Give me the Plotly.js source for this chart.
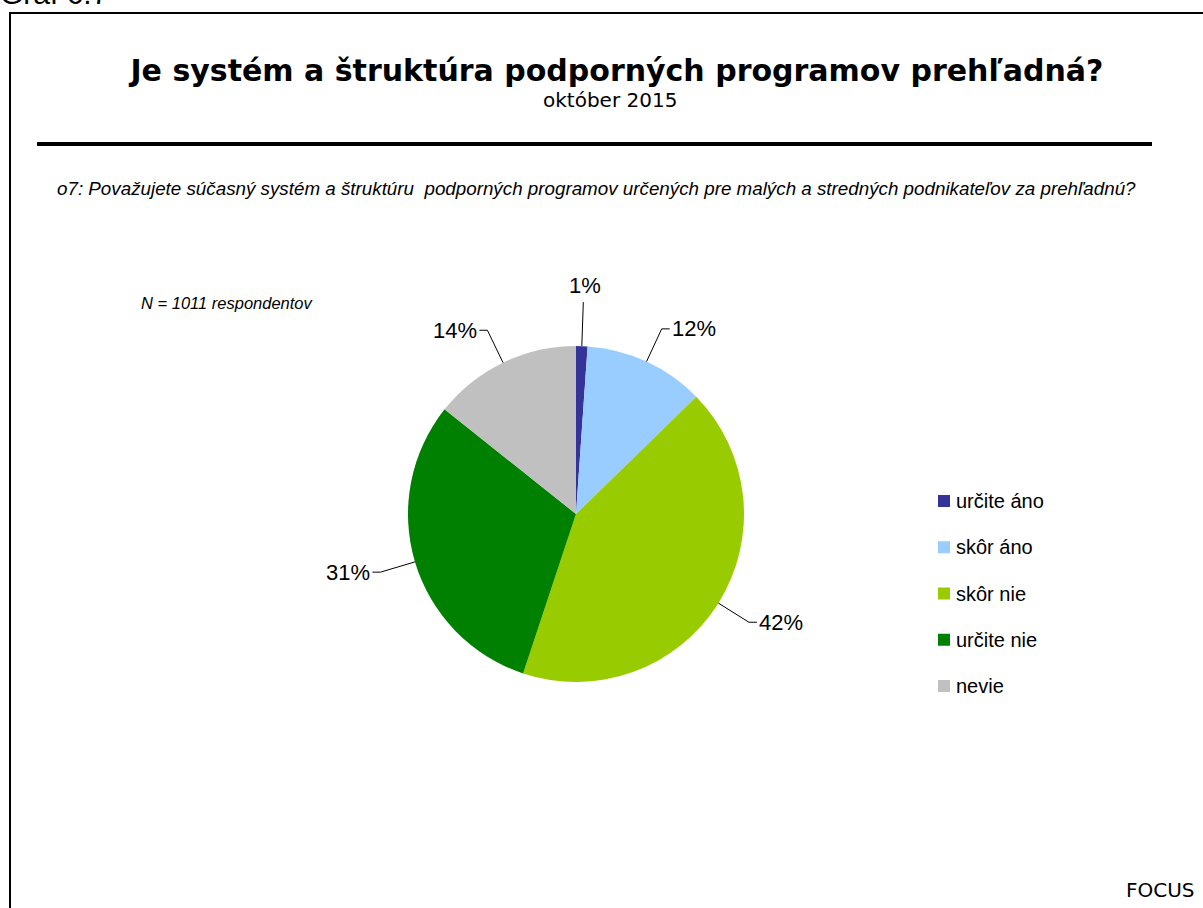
<!DOCTYPE html>
<html>
<head>
<meta charset="utf-8">
<script src="https://cdn.plot.ly/plotly-3.0.1.min.js"></script>
<style>html,body{margin:0;padding:0;background:#fff;}#chart{width:1203px;height:908px;}</style>
</head>
<body>
<div id="chart"></div>
<script>
// ---- data ----
const categories = ['určite áno', 'skôr áno', 'skôr nie', 'určite nie', 'nevie'];
const shares = [1.1, 11.6, 42.4, 30.6, 14.3];
const sliceColors = ['#333399', '#99CCFF', '#99CC00', '#008000', '#C0C0C0'];

const chartTitle = 'Je systém a štruktúra podporných programov prehľadná?';
const subTitle = 'október 2015';
const questionText = 'o7: Považujete súčasný systém a štruktúru  podporných programov určených pre malých a stredných podnikateľov za prehľadnú?';
const sampleNote = 'N = 1011 respondentov';
const figureLabel = 'Graf 6.7';
const sourceLabel = 'FOCUS';

// ---- layout geometry (pixels) ----
const W = 1203, H = 908;
const CX = 576, CY = 514, R = 168;
const px = x => x / W;
const py = y => 1 - y / H;

const total = shares.reduce((a, b) => a + b, 0);
const shapes = [];
const annotations = [];

// frame
shapes.push({type: 'rect', xref: 'paper', yref: 'paper', x0: px(10), y0: py(13), x1: 1.02, y1: -0.02,
  line: {color: '#000', width: 2}, fillcolor: 'rgba(0,0,0,0)'});
// rule under title
shapes.push({type: 'line', xref: 'paper', yref: 'paper', x0: px(37), x1: px(1152), y0: py(144), y1: py(144),
  line: {color: '#000', width: 4}});

// leader lines + percentage labels, derived from data
let cum = 0;
shares.forEach((v, i) => {
  const mid = (cum + v / 2) / total * 2 * Math.PI;
  cum += v;
  const s = Math.sin(mid), c = Math.cos(mid);
  const ax = CX + R * s, ay = CY - R * c;
  const label = Math.round(v / total * 100) + '%';
  if (Math.abs(s) < 0.15) {
    const d = 44;
    const bx = CX + (R + d) * s, by = CY - (R + d) * c;
    shapes.push({type: 'line', xref: 'paper', yref: 'paper', x0: px(ax), y0: py(ay), x1: px(bx), y1: py(by),
      line: {color: '#000', width: 1}});
    annotations.push({xref: 'paper', yref: 'paper', x: px(bx + 2), y: py(by - 2), xanchor: 'center', yanchor: 'bottom',
      text: label, showarrow: false, font: {family: 'Liberation Sans, Arial', size: 22, color: '#000'}});
  } else {
    const d = 36;
    const bx = CX + (R + d) * s, by = CY - (R + d) * c;
    const side = s > 0 ? 1 : -1;
    const ex = bx + side * 8;
    shapes.push({type: 'path', xref: 'paper', yref: 'paper',
      path: 'M' + px(ax) + ',' + py(ay) + ' L' + px(bx) + ',' + py(by) + ' L' + px(ex) + ',' + py(by),
      line: {color: '#000', width: 1}});
    annotations.push({xref: 'paper', yref: 'paper', x: px(ex), y: py(by),
      xanchor: side > 0 ? 'left' : 'right', yanchor: 'middle',
      text: label, showarrow: false, font: {family: 'Liberation Sans, Arial', size: 22, color: '#000'}});
  }
});

// legend (built from categories and colours)
const LX = 938, LY0 = 501, LDY = 46.25, SQ = 12;
categories.forEach((name, i) => {
  const yc = LY0 + i * LDY;
  shapes.push({type: 'rect', xref: 'paper', yref: 'paper', x0: px(LX), x1: px(LX + SQ), y0: py(yc - SQ / 2), y1: py(yc + SQ / 2),
    fillcolor: sliceColors[i], line: {width: 0}});
  annotations.push({xref: 'paper', yref: 'paper', x: px(LX + SQ + 4), y: py(yc), xanchor: 'left', yanchor: 'middle',
    text: name, showarrow: false, font: {family: 'Liberation Sans, Arial', size: 20, color: '#000'}});
});

// other texts
annotations.push({xref: 'paper', yref: 'paper', x: px(610), y: py(100), xanchor: 'center', yanchor: 'middle',
  text: subTitle, showarrow: false, font: {family: 'DejaVu Sans', size: 20, color: '#000'}});
annotations.push({xref: 'paper', yref: 'paper', x: px(55), y: py(188), xanchor: 'left', yanchor: 'middle',
  text: '<i>' + questionText + '</i>', showarrow: false, font: {family: 'Liberation Sans, Arial', size: 18.8, color: '#000'}});
annotations.push({xref: 'paper', yref: 'paper', x: px(139), y: py(303), xanchor: 'left', yanchor: 'middle',
  text: '<i>' + sampleNote + '</i>', showarrow: false, font: {family: 'Liberation Sans, Arial', size: 16.5, color: '#000'}});
annotations.push({xref: 'paper', yref: 'paper', x: px(-2), y: py(12), xanchor: 'left', yanchor: 'bottom',
  text: figureLabel, showarrow: false, font: {family: 'Liberation Sans, Arial', size: 30, color: '#000'}});
annotations.push({xref: 'paper', yref: 'paper', x: px(1197), y: py(890), xanchor: 'right', yanchor: 'middle',
  text: sourceLabel, showarrow: false, font: {family: 'DejaVu Sans', size: 20, color: '#000'}});

const trace = {
  type: 'pie',
  labels: categories,
  values: shares,
  sort: false,
  direction: 'clockwise',
  rotation: 0,
  marker: {colors: sliceColors, line: {width: 0}},
  textinfo: 'none',
  hoverinfo: 'label+percent',
  showlegend: false,
  domain: {x: [px(CX - R), px(CX + R)], y: [py(CY + R), py(CY - R)]}
};

const layout = {
  width: W, height: H,
  margin: {l: 0, r: 0, t: 0, b: 0},
  paper_bgcolor: '#fff',
  plot_bgcolor: '#fff',
  showlegend: false,
  title: {
    text: '<b>' + chartTitle + '</b>',
    x: px(617), xanchor: 'center', xref: 'paper',
    y: py(70), yanchor: 'middle', yref: 'container',
    font: {family: 'DejaVu Sans', size: 30, color: '#000'}
  },
  shapes: shapes,
  annotations: annotations
};

Plotly.newPlot('chart', [trace], layout, {displayModeBar: false});
</script>
</body>
</html>
